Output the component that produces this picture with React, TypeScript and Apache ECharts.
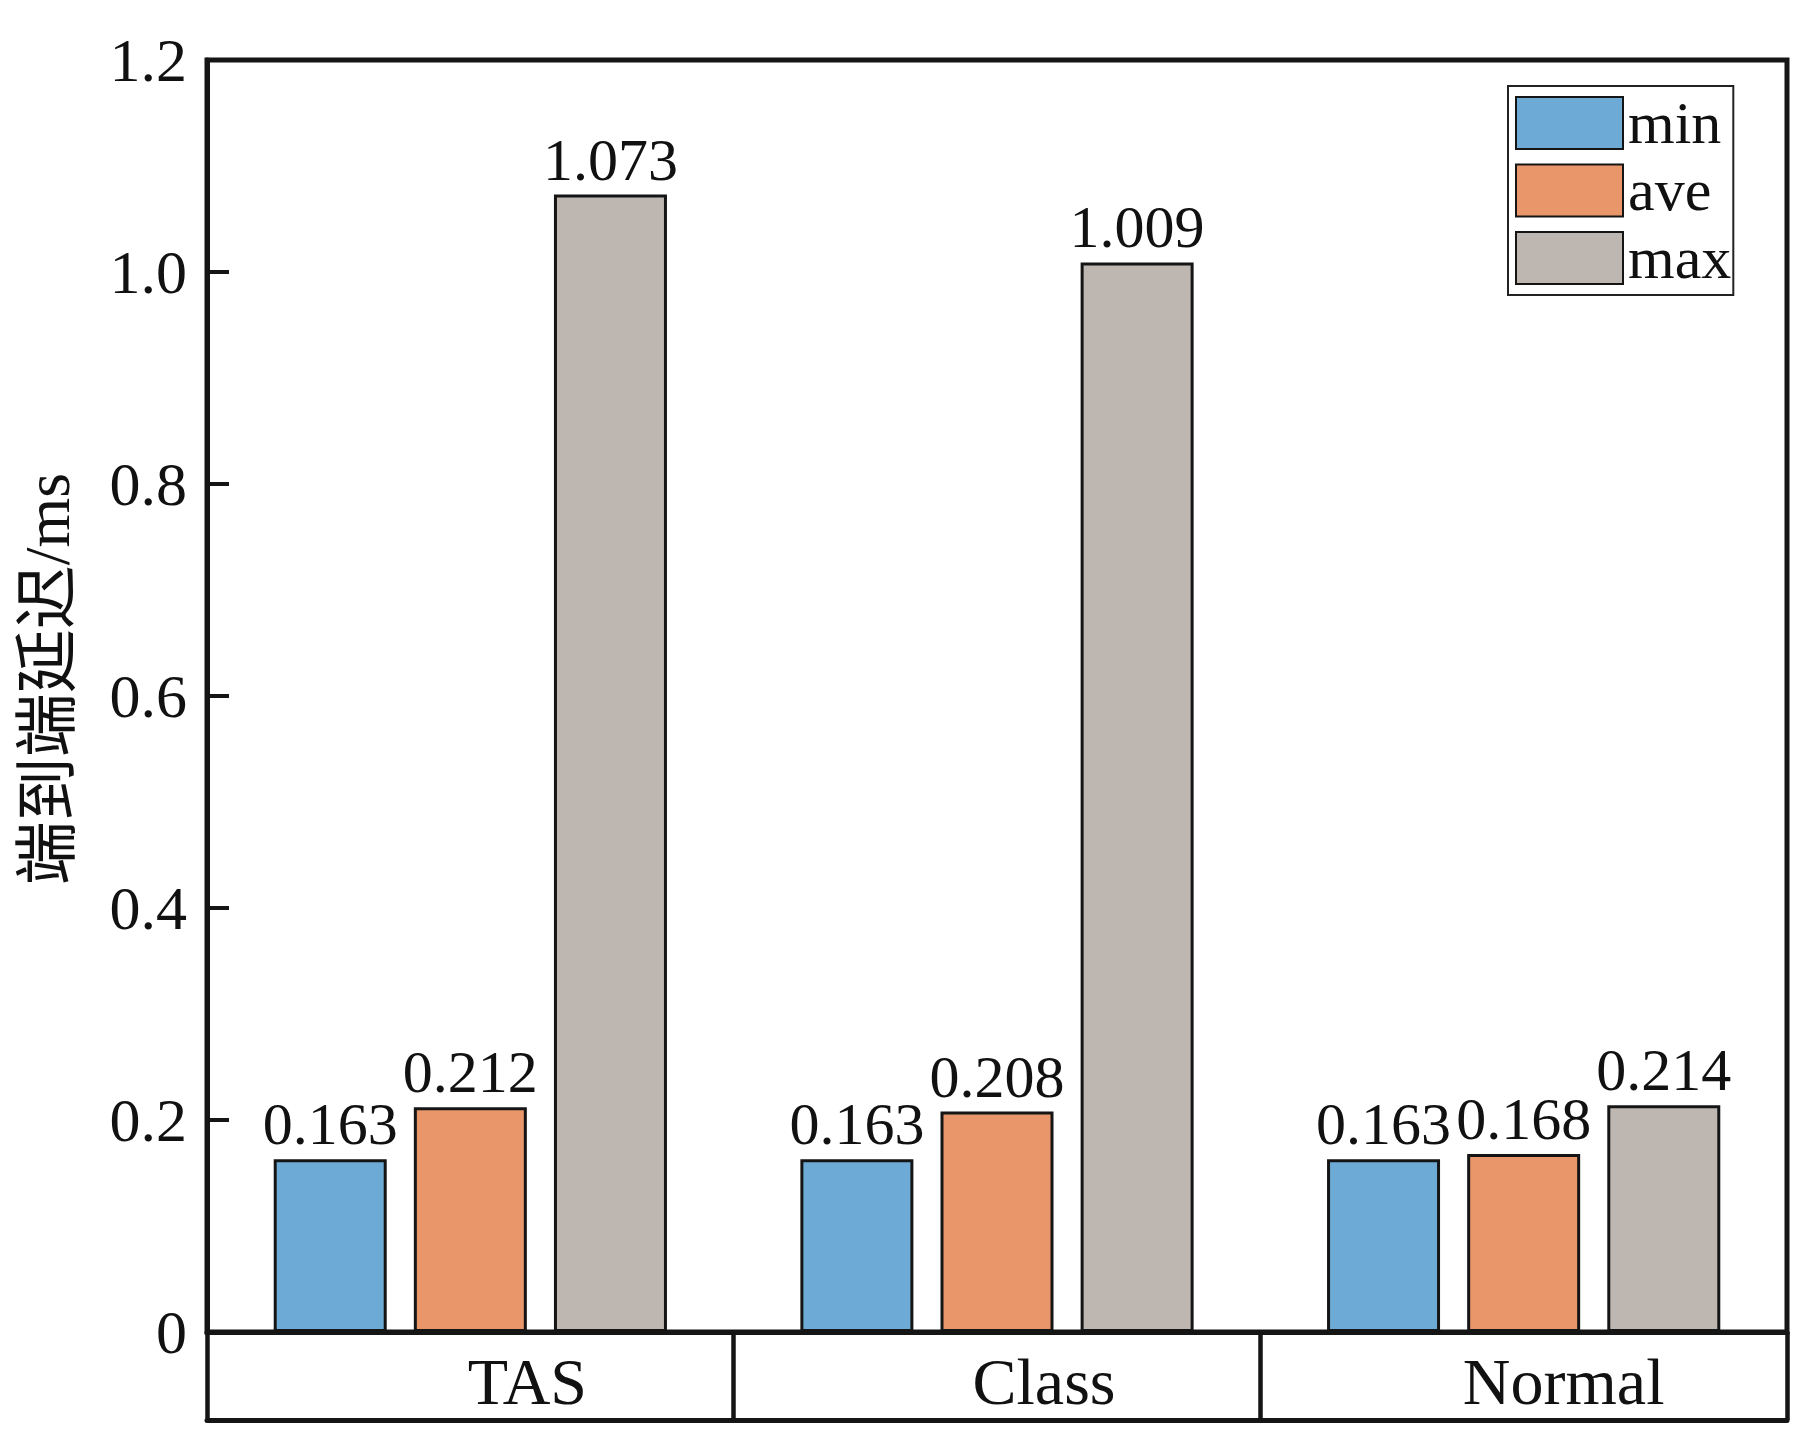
import React, { useEffect, useRef } from "react";
import * as echarts from "echarts";

const categories = ["TAS", "Class", "Normal"];
const seriesNames = ["min", "ave", "max"];
const minValues = [0.163, 0.163, 0.163];
const aveValues = [0.212, 0.208, 0.168];
const maxValues = [1.073, 1.009, 0.214];
const colors = ["#6DABD6", "#E8966A", "#BDB6B1"];
const categoryLabelShift = [114, 94, 80];

const FONT = "'Liberation Serif', 'Times New Roman', 'Noto Sans CJK SC', serif";

export default function App() {
  const ref = useRef<HTMLDivElement>(null);
  useEffect(() => {
    if (!ref.current) return;
    const chart = echarts.init(ref.current, null, { renderer: "svg" });
    const values = [minValues, aveValues, maxValues];
    const series = seriesNames.map((name, i) => ({
      name,
      type: "bar",
      xAxisIndex: 0,
      data: values[i],
      barWidth: 113,
      barGap: "24%",
      itemStyle: { color: colors[i], borderColor: "#151515", borderWidth: 3 },
      label: {
        show: true,
        position: "top",
        distance: 5,
        fontFamily: FONT,
        fontSize: 60,
        color: "#111",
        formatter: (p: any) => Number(p.value).toFixed(3),
      },
    }));
    const rich: any = {};
    categoryLabelShift.forEach((s, i) => {
      rich["c" + i] = {
        fontFamily: FONT,
        fontSize: 66,
        color: "#111",
        padding: [0, 0, 0, s],
      };
    });
    chart.setOption({
      animation: false,
      backgroundColor: "#fff",
      textStyle: { fontFamily: FONT },
      grid: {
        left: 207,
        top: 60,
        width: 1580,
        height: 1272,
        show: true,
        borderColor: "#151515",
        borderWidth: 5,
        backgroundColor: "transparent",
      },
      legend: {
        orient: "vertical",
        left: 1508,
        top: 86,
        padding: [7, 2, 7, 7],
        itemWidth: 107,
        itemHeight: 52,
        itemGap: 7.5,
        icon: "rect",
        borderColor: "#222",
        borderWidth: 2,
        backgroundColor: "#fff",
        textStyle: { fontFamily: FONT, fontSize: 60, color: "#111" },
        data: seriesNames,
      },
      xAxis: [
        {
          type: "category",
          data: categories,
          position: "bottom",
          axisLine: { show: true, lineStyle: { color: "#151515", width: 5 } },
          axisTick: {
            show: true,
            inside: false,
            length: 88,
            interval: 0,
            lineStyle: { color: "#151515", width: 4.5 },
          },
          axisLabel: {
            margin: 16,
            fontFamily: FONT,
            fontSize: 66,
            color: "#111",
            formatter: (v: string, i: number) => `{c${i}|${v}}`,
            rich,
          },
        },
        {
          type: "category",
          data: categories,
          position: "bottom",
          offset: 88,
          axisLine: { show: true, lineStyle: { color: "#151515", width: 5 } },
          axisTick: { show: false },
          axisLabel: { show: false },
        },
      ],
      yAxis: {
        type: "value",
        min: 0,
        max: 1.2,
        interval: 0.2,
        name: "端到端延迟/ms",
        nameLocation: "middle",
        nameGap: 128,
        nameTextStyle: {
          fontFamily: FONT,
          fontSize: 64,
          color: "#111",
          padding: [0, 0, 0, 34],
        },
        axisLine: { show: true, lineStyle: { color: "#151515", width: 5 } },
        axisTick: { show: true, inside: true, length: 22, lineStyle: { color: "#151515", width: 4 } },
        splitLine: { show: false },
        axisLabel: {
          margin: 20,
          fontFamily: FONT,
          fontSize: 62,
          color: "#111",
          formatter: (v: number) => (v === 0 ? "0" : v.toFixed(1)),
        },
      },
      series,
    });
    return () => chart.dispose();
  }, []);
  return (
    <div
      ref={ref}
      style={{ position: "absolute", left: 0, top: 0, width: 1819, height: 1453, background: "#fff" }}
    />
  );
}
